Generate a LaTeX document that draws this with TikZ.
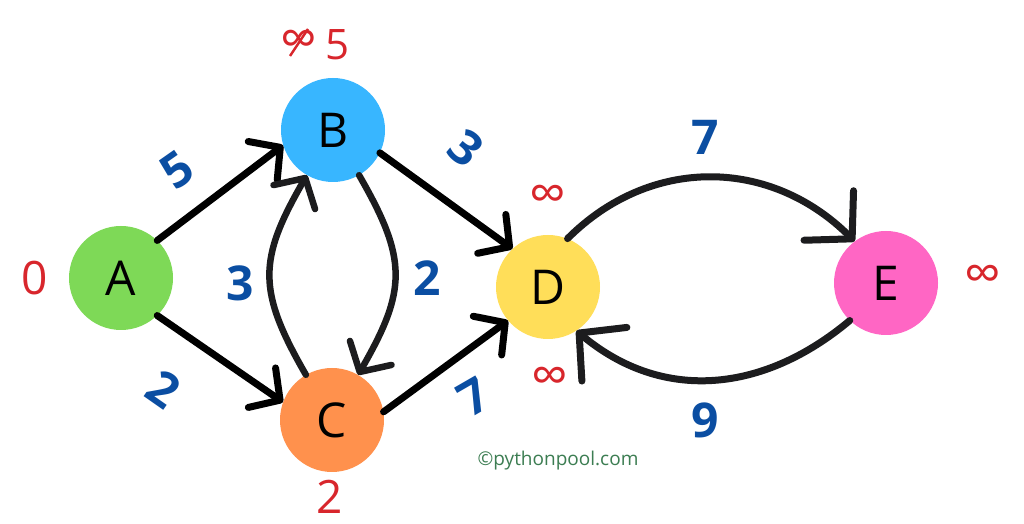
\documentclass[tikz,border=0pt]{standalone}
\usepackage{fontspec}
\setmainfont{Open Sans}
\usetikzlibrary{arrows.meta}
\definecolor{cA}{HTML}{7ED957}
\definecolor{cB}{HTML}{38B6FF}
\definecolor{cC}{HTML}{FF914D}
\definecolor{cD}{HTML}{FFDE59}
\definecolor{cE}{HTML}{FF66C4}
\definecolor{wblue}{HTML}{0B4EA2}
\definecolor{dred}{HTML}{D8262C}
\definecolor{cgreen}{HTML}{3C7D52}
\definecolor{curvec}{HTML}{1C1C1E}
\begin{document}
\begin{tikzpicture}[x=1pt,y=1pt,
  vert/.style={circle, minimum size=104pt, inner sep=0pt, font=\fontsize{48}{48}\selectfont},
  edge/.style={line width=7pt, line cap=round, -{Straight Barb[length=22pt,width=48pt,round]}},
  bigedge/.style={line width=7pt, line cap=round, draw=curvec, -{Straight Barb[length=33pt,width=70pt,round]}},
  wlabel/.style={text=wblue, font=\fontsize{48}{48}\selectfont\bfseries, inner sep=0pt},
  dist/.style={text=dred, font=\fontsize{46}{46}\selectfont, inner sep=0pt},
  inflabel/.style={text=dred, font=\fontsize{52}{52}\selectfont, inner sep=0pt}
]
\useasboundingbox (0,0) rectangle (1024,524);
\fill[white] (0,0) rectangle (1024,524);

\node[vert, fill=cA] (A) at (121,246) {A};
\node[vert, fill=cB] (B) at (333,394) {B};
\node[vert, fill=cC] (C) at (332,104) {C};
\node[vert, fill=cD] (D) at (548,237) {D};
\node[vert, fill=cE] (E) at (886,241) {E};

% straight edges
\draw[edge] (A.46) -- (B.197);
\draw[edge] (A.-46) -- (C.160);
\draw[edge] (B.-26) -- (D.133);
\draw[edge] (C.9) -- (D.-140);

% curved edges between B and C
\draw[edge, draw=curvec, line width=6.5pt] (B.-60) to[out=-60, in=60, looseness=1.25] (C.60);
\draw[edge, draw=curvec, line width=6.5pt] (C.120) to[out=120, in=-120, looseness=1.25] (B.-120);

% curved edges between D and E
\draw[bigedge] (D.68) to[out=45, in=135, looseness=1.05] (E.127);
\draw[bigedge] (E.-134) to[out=-140, in=-40, looseness=1.05] (D.-57);

% weights
\node[wlabel, rotate=35] (w1) at (177,354) {5};
\node[wlabel, rotate=-35] (w2) at (164,135) {2};
\node[wlabel] (w3) at (240,241) {3};
\node[wlabel] (w4) at (427,246) {2};
\node[wlabel, rotate=-40] (w5) at (466,376) {3};
\node[wlabel, rotate=30] (w6) at (474,127) {7};
\node[wlabel] (w7) at (705,387) {7};
\node[wlabel] (w8) at (705,104) {9};

% distances
\node[dist] (dA) at (35,246) {0};
\node[dist] (dC) at (330,27) {2};
\node[inflabel] (dD1) at (548,326) {∞};
\node[inflabel] (dD2) at (550,144) {∞};
\node[inflabel] (dE) at (983,246) {∞};
\node[inflabel] (dBold) at (299,481) {∞};
\draw[dred, line width=2.4pt] (dBold.center) +(-9,-13) -- +(9,14);
\node[dist, font=\fontsize{42}{42}\selectfont] (dB) at (338,479) {5};

\node[text=cgreen, font=\fontsize{19}{19}\selectfont, inner sep=0pt] (copy) at (558,63) {©pythonpool.com};
\end{tikzpicture}
\end{document}
